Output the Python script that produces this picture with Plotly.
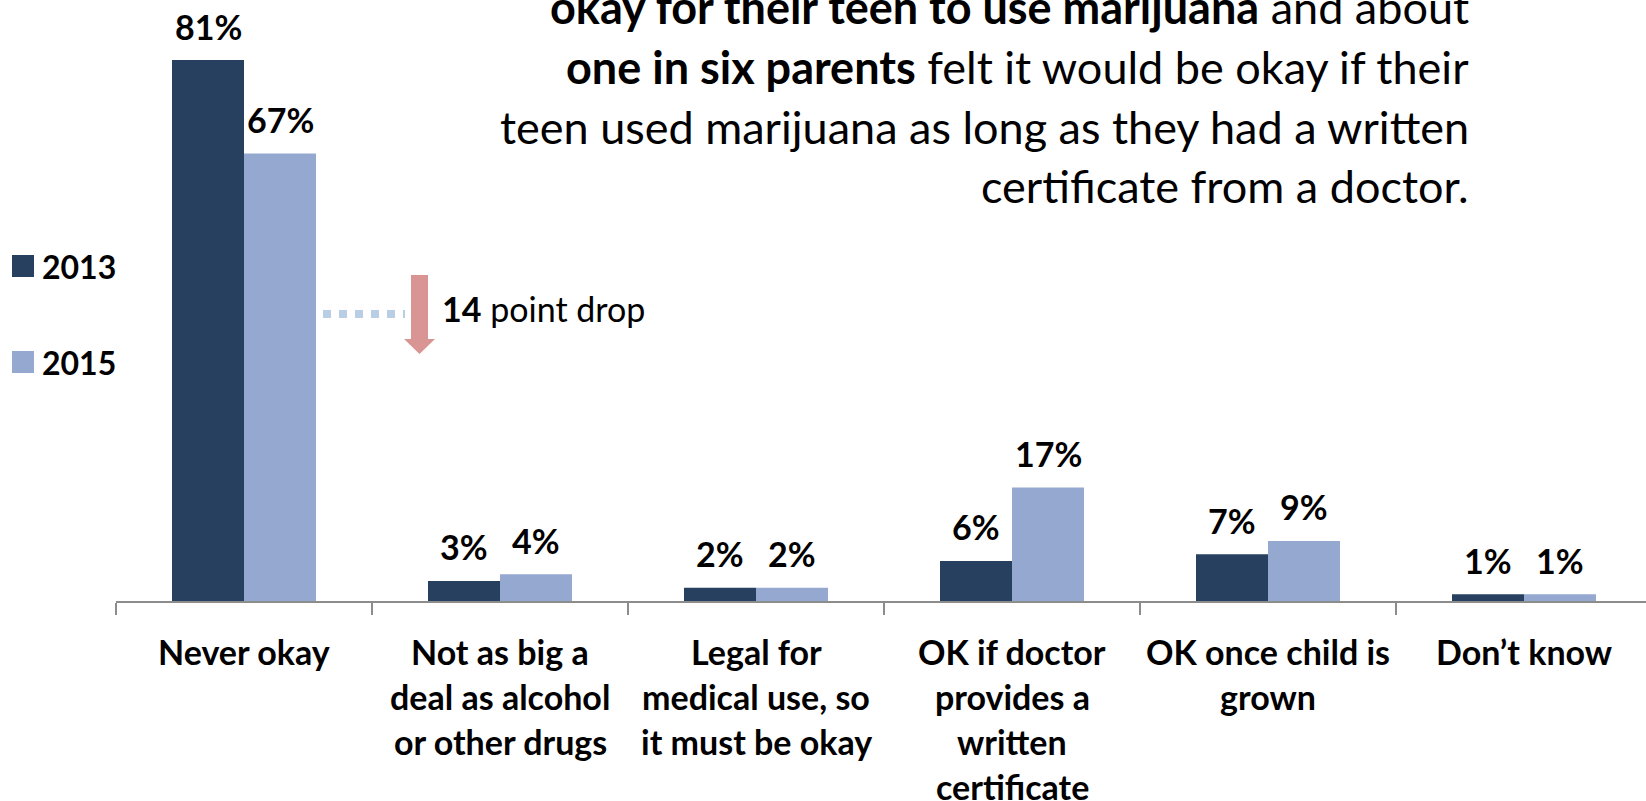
import plotly.graph_objects as go

# ---- data ----
categories = [
    "Never okay",
    "Not as big a<br>deal as alcohol<br>or other drugs",
    "Legal for<br>medical use, so<br>it must be okay",
    "OK if doctor<br>provides a<br>written<br>certificate",
    "OK once child is<br>grown",
    "Don\u2019t know",
]
series_names = ["2013", "2015"]
values_2013 = [81, 3, 2, 6, 7, 1]
values_2015 = [67, 4, 2, 17, 9, 1]

headline_lines = [
    "<b>okay for their teen to use marijuana</b> and about",
    "<b>one in six parents</b> felt it would be okay if their",
    "teen used marijuana as long as they had a written",
    "certificate from a doctor.",
]
drop_note = "<b>14</b> point drop"

# ---- styling ----
FONT = "Lato"
C2013 = "#284060"
C2015 = "#95A9D0"
AXIS_GREY = "#8C8C8C"

W, H = 1646, 801
ML, MB = 116, 200
PW, PH = W - ML, H - MB
CAT_W = 256.0  # pixels per category

def px(x):
    return (x - ML) / PW

def py(y):
    return 1 - y / PH

fig = go.Figure()
fig.add_trace(go.Bar(name=series_names[0], x=categories, y=values_2013,
                     marker=dict(color=C2013, line=dict(width=0))))
fig.add_trace(go.Bar(name=series_names[1], x=categories, y=values_2015,
                     marker=dict(color=C2015, line=dict(width=0))))

annotations = []
shapes = []

# value labels above each bar
half = 36
for vals, shift in ((values_2013, -half), (values_2015, half)):
    for cat, v in zip(categories, vals):
        annotations.append(dict(
            x=cat, y=v, xref="x", yref="y", xshift=shift, yshift=34,
            text=f"<b>{v}%</b>", showarrow=False, xanchor="center", yanchor="middle",
            font=dict(family=FONT, size=34, color="black")))

# category labels, one annotation per line
for i, cat in enumerate(categories):
    for j, line in enumerate(cat.split("<br>")):
        annotations.append(dict(
            x=cat, xref="x", y=py(651 + 45 * j), yref="paper",
            text=f"<b>{line}</b>", showarrow=False, xanchor="center", yanchor="middle",
            font=dict(family=FONT, size=34, color="black")))

# headline text, right aligned
HEAD_SIZE = 45
base_lines = [23, 83, 143, 202]
for line, base in zip(headline_lines, base_lines):
    annotations.append(dict(
        x=px(1471), xref="paper", y=py(base - 0.36 * HEAD_SIZE), yref="paper",
        text=line, showarrow=False, xanchor="right", yanchor="middle",
        font=dict(family=FONT, size=HEAD_SIZE, color="black")))

# legend
for name, color, cy in ((series_names[0], C2013, 266), (series_names[1], C2015, 362)):
    shapes.append(dict(type="rect", xref="paper", yref="paper",
                       x0=px(12), x1=px(34), y0=py(cy - 11), y1=py(cy + 11),
                       fillcolor=color, line=dict(width=0)))
    annotations.append(dict(
        x=px(40), xref="paper", y=py(cy), yref="paper",
        text=f"<b>{name}</b>", showarrow=False, xanchor="left", yanchor="middle",
        font=dict(family=FONT, size=32, color="black")))

# dotted connector from the 2015 bar
shapes.append(dict(type="line", xref="paper", yref="paper",
                   x0=px(323), x1=px(405), y0=py(314), y1=py(314),
                   line=dict(color="#B9CDE5", width=8, dash="dot")))

# down arrow
ax0, ax1, hx0, hx1 = 411, 428, 404, 435
ay0, ay1, tip = 275, 339, 354
pts = [(ax0, ay0), (ax1, ay0), (ax1, ay1), (hx1, ay1), ((hx0 + hx1) / 2, tip),
       (hx0, ay1), (ax0, ay1)]
path = "M " + " L ".join(f"{px(a):.5f},{py(b):.5f}" for a, b in pts) + " Z"
shapes.append(dict(type="path", xref="paper", yref="paper", path=path,
                   fillcolor="#D99594", line=dict(width=0)))

annotations.append(dict(
    x=px(440), xref="paper", y=py(308), yref="paper",
    text=drop_note, showarrow=False, xanchor="left", yanchor="middle",
    font=dict(family=FONT, size=34, color="black")))

fig.update_layout(
    width=W, height=H,
    margin=dict(l=ML, r=0, t=0, b=MB, pad=0),
    paper_bgcolor="white", plot_bgcolor="white",
    barmode="group", bargap=0.4375, bargroupgap=0,
    showlegend=False,
    font=dict(family=FONT),
    xaxis=dict(type="category", range=[-0.5, -0.5 + PW / CAT_W],
               showline=True, linecolor=AXIS_GREY, linewidth=2,
               ticks="outside", tickson="boundaries", ticklen=12,
               tickcolor=AXIS_GREY, tickwidth=2,
               showticklabels=False, showgrid=False, zeroline=False),
    yaxis=dict(range=[0, 90], visible=False, showgrid=False, zeroline=False),
    annotations=annotations,
    shapes=shapes,
)

fig.write_html("out.html")
